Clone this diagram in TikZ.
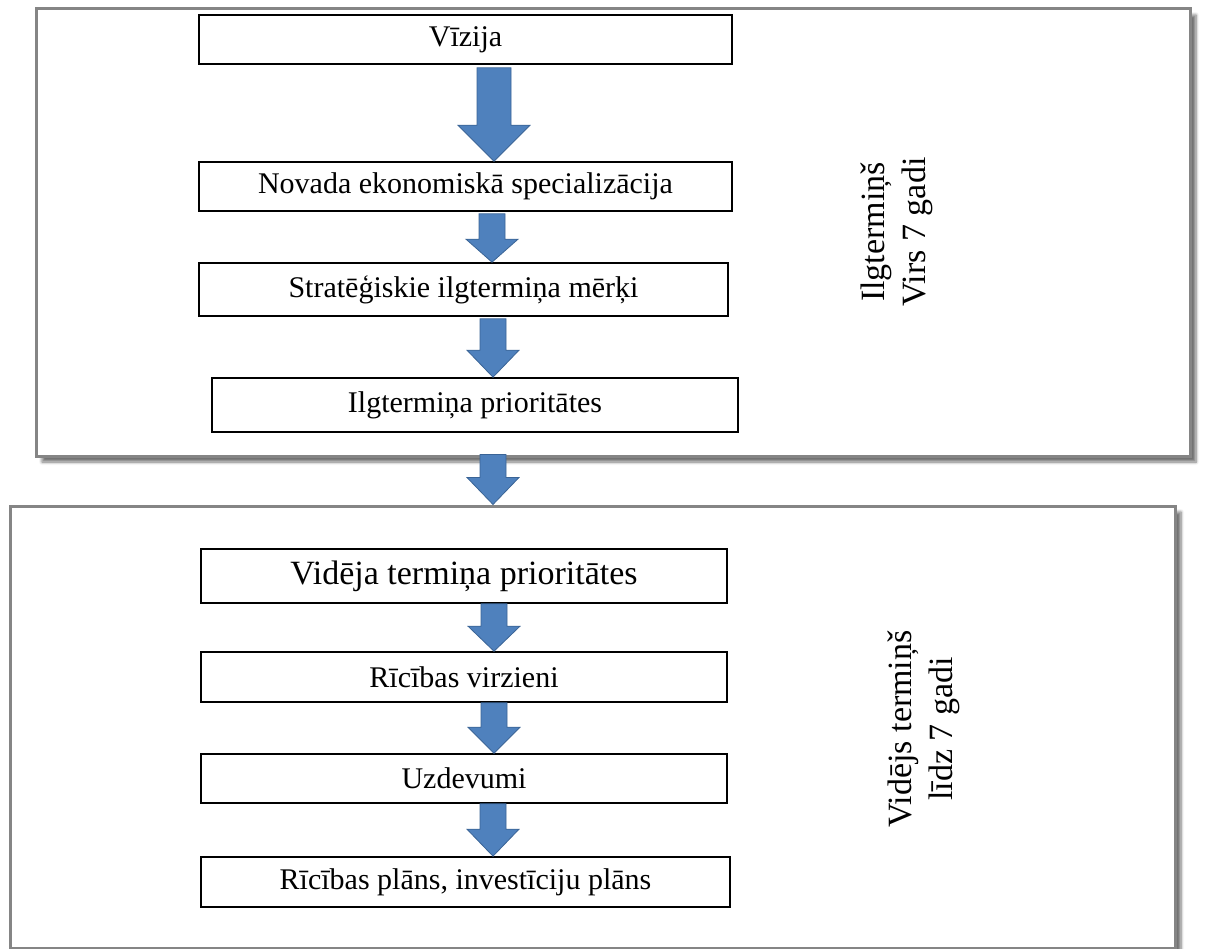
\documentclass[tikz,border=0pt]{standalone}
\usepackage{fontspec}
\setmainfont{Liberation Serif}
\usetikzlibrary{calc,shadows.blur}
\definecolor{arrowfill}{HTML}{4F81BD}
\definecolor{arrowdraw}{HTML}{3A6496}
\definecolor{framegray}{HTML}{858585}
\tikzset{
  outerbox/.style={draw=framegray, line width=3pt, fill=white, inner sep=0pt,
    blur shadow={shadow xshift=6pt, shadow yshift=-6pt, shadow blur steps=6,
      shadow blur radius=3pt, shadow opacity=55}},
  stagebox/.style={draw=black, line width=1.6pt, fill=white, inner sep=0pt,
    font=\fontsize{30}{36}\selectfont},
  sidelabel/.style={rotate=90, align=center, font=\fontsize{34}{41}\selectfont, inner sep=0pt},
  blockarrow/.style={fill=arrowfill, draw=arrowdraw, line width=0.8pt, line join=miter}
}
% #1 from node, #2 to node, #3 center x, #4 shaft half width, #5 head half width,
% #6 head length, #7 gap below the from node
\newcommand{\flowarrow}[7]{%
  \path[blockarrow] let \p1=(#1.south), \p2=(#2.north) in
    (#3pt-#4pt, \y1-#7pt) -- (#3pt+#4pt, \y1-#7pt) -- (#3pt+#4pt, \y2+#6pt)
    -- (#3pt+#5pt, \y2+#6pt) -- (#3pt, \y2) -- (#3pt-#5pt, \y2+#6pt)
    -- (#3pt-#4pt, \y2+#6pt) -- cycle;}
\begin{document}
\begin{tikzpicture}[x=1pt,y=-1pt]
\useasboundingbox (0,0) rectangle (1205,949);
% outer frames
\node[outerbox, minimum width=1154pt, minimum height=447pt] (top) at (613,232.5) {};
\node[outerbox, minimum width=1165pt, minimum height=442pt] (bottom) at (592.5,727) {};
% top group
\node[stagebox, minimum width=533pt, minimum height=49pt] (viz) at (465.5,39.5) {Vīzija};
\node[stagebox, minimum width=533pt, minimum height=49pt] (nov) at (465.5,186.5) {Novada ekonomiskā specializācija};
\node[stagebox, minimum width=529pt, minimum height=53pt] (str) at (463.5,289.5) {Stratēģiskie ilgtermiņa mērķi};
\node[stagebox, minimum width=526pt, minimum height=54pt] (ilg) at (475,405) {Ilgtermiņa prioritātes};
\node[sidelabel] (lbltop) at (897,232) {Ilgtermiņš\\Virs 7 gadi};
% bottom group
\node[stagebox, minimum width=526pt, minimum height=54pt, font=\fontsize{34}{40}\selectfont] (vid) at (464,576) {Vidēja termiņa prioritātes};
\node[stagebox, minimum width=526pt, minimum height=50pt] (ric) at (464,677) {Rīcības virzieni};
\node[stagebox, minimum width=526pt, minimum height=49pt] (uzd) at (464,778.5) {Uzdevumi};
\node[stagebox, minimum width=529pt, minimum height=50pt] (rpl) at (465.5,882) {Rīcības plāns, investīciju plāns};
\node[sidelabel] (lblbot) at (924,729) {Vidējs termiņš\\līdz 7 gadi};
% block arrows
\flowarrow{viz}{nov}{494}{17}{36}{36}{3}
\flowarrow{nov}{str}{492}{13}{26}{23}{2}
\flowarrow{str}{ilg}{493}{13}{26}{27}{2}
\flowarrow{top}{bottom}{493}{13}{26}{27}{-3}
\flowarrow{vid}{ric}{494}{13}{26}{25}{0}
\flowarrow{ric}{uzd}{494}{13}{26}{26}{0}
\flowarrow{uzd}{rpl}{493}{13}{26}{27}{0}
\end{tikzpicture}
\end{document}
